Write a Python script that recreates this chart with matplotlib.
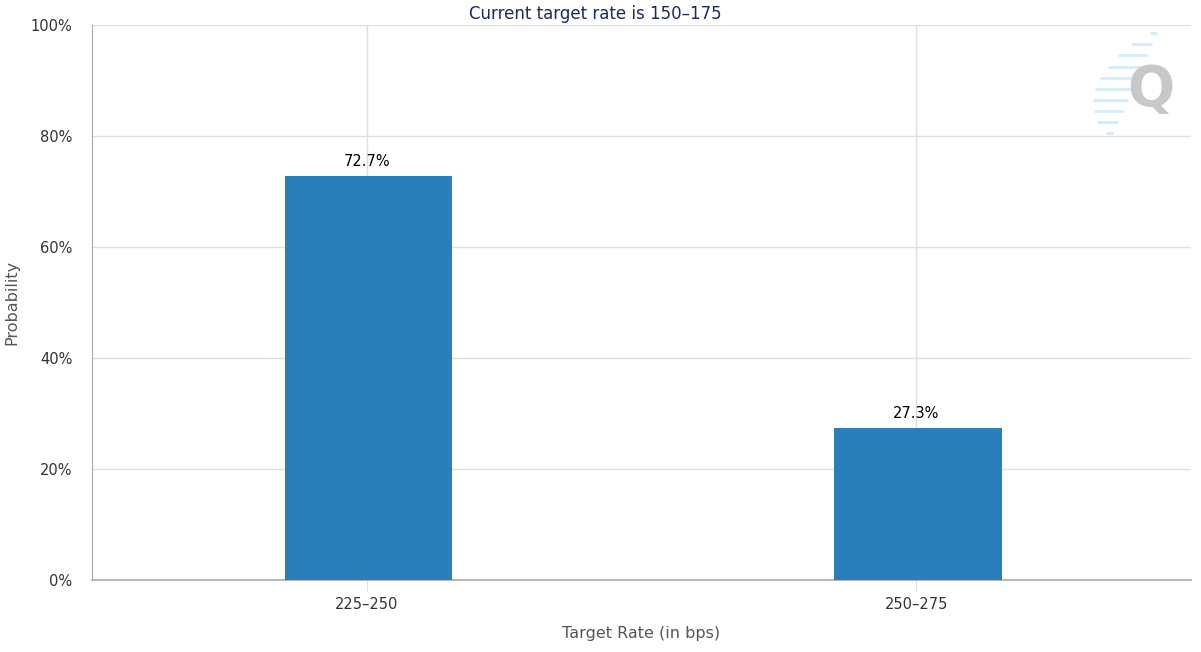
import numpy as np
from matplotlib import pyplot as plt
from matplotlib.ticker import PercentFormatter

# data
categories = ['225\u2013250', '250\u2013275']
probs = [72.7, 27.3]
title = 'Current target rate is 150\u2013175'

bar_color = '#2a7fba'
grid_color = '#e0e0e0'
axis_color = '#aaaaaa'
text_color = '#333333'

plt.rcParams['font.family'] = ['DejaVu Sans']

fig = plt.figure(figsize=(12.01, 6.52), dpi=100)
ax = fig.add_axes([0.0766, 0.1104, 0.9151, 0.8513])

x = np.arange(len(categories))
bars = ax.bar(x + 0.003, probs, width=0.305, color=bar_color, zorder=3)
for xi, p in zip(x, probs):
    ax.text(xi, p + 1.4, '%.1f%%' % p, ha='center', va='bottom',
            fontsize=10.5, color='black', zorder=4)

ax.set_xlim(-0.5, len(categories) - 0.5)
ax.set_ylim(0, 100)
ax.set_yticks(np.arange(0, 101, 20))
ax.yaxis.set_major_formatter(PercentFormatter(decimals=0))
ax.set_xticks(x)
ax.set_xticklabels(categories)

ax.grid(True, color=grid_color, linewidth=1, zorder=0)
ax.tick_params(axis='y', length=0, labelsize=10.5, labelcolor=text_color, pad=14)
ax.tick_params(axis='x', length=8, color=grid_color, labelsize=10.5,
               labelcolor=text_color, pad=4)

for side in ['top', 'right']:
    ax.spines[side].set_visible(False)
ax.spines['left'].set_color(axis_color)
ax.spines['bottom'].set_color(axis_color)
ax.spines['bottom'].set_linewidth(1.2)

ax.set_xlabel('Target Rate (in bps)', fontsize=11.5, color='#555555', labelpad=10)
ax.set_ylabel('Probability', fontsize=11.5, color='#555555', labelpad=8)
fig.text(0.4955, 0.978, title, ha='center', va='center',
         fontsize=12, color='#1c2a5e')

# faint "Q" watermark in the top right corner
n = 10
for i in range(n):
    frac = i / (n - 1)
    yy = 0.985 - frac * 0.18
    x_right = 0.969 - frac * 0.04
    length = 0.006 + 0.028 * np.sin(np.pi * frac) ** 0.7
    ax.plot([x_right - length, x_right], [yy, yy], transform=ax.transAxes,
            color='#d3ecfa', linewidth=2, solid_capstyle='butt', zorder=1)
ax.text(0.963, 0.883, 'Q', transform=ax.transAxes, ha='center', va='center',
        fontsize=40, fontweight='bold', color='#c8c8c8', zorder=2)

fig.savefig('out.png', dpi=100)
